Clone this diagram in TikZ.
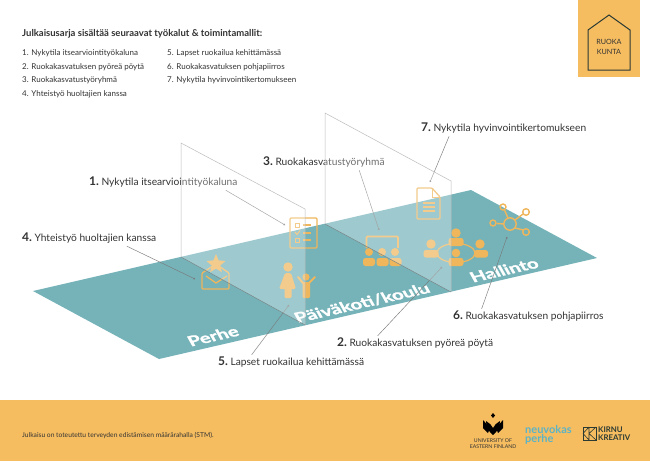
\documentclass[tikz,border=0pt]{standalone}
\usepackage{fontspec}
\setmainfont{Lato}
\newfontfamily\floorfont{Lato}[FakeBold=1.3]
\usetikzlibrary{arrows.meta,calc}
\definecolor{bar}{HTML}{F6BD60}
\definecolor{teal}{HTML}{75B3B9}
\definecolor{ico}{HTML}{EFB65C}
\definecolor{ink}{HTML}{333333}
\definecolor{leader}{HTML}{7A7A7A}
\definecolor{edge}{HTML}{BDBDBD}
\definecolor{nblue}{HTML}{5CB3C6}
\definecolor{kink}{HTML}{2B3A33}
\newcommand{\bustshape}[4]{% centre x, top y, half width, bottom y
  \fill[ico,rounded corners=2.5pt] (#1-#3,#4) -- (#1-#3,#2) -- (#1+#3,#2) -- (#1+#3,#4) -- cycle;}
\newcommand{\lab}[2]{{\fontsize{12}{12}\bfseries #1}\hspace{2.5pt}{\fontsize{10.2}{11}\selectfont #2}}
\tikzset{
  x=1pt,y=-1pt,
  labelnode/.style={anchor=base west,inner sep=0pt,text=ink,text height=10pt,text depth=5pt},
  listnode/.style={anchor=base west,inner sep=0pt,text=ink,font=\fontsize{8}{9}\selectfont},
  leaderline/.style={draw=leader,line width=.45pt,-{Circle[length=1.8pt]}},
  planeface/.style={fill=white,fill opacity=.3,draw=none},
  planeedge/.style={draw=edge,line width=.5pt},
  iconline/.style={draw=ico,line width=1.3pt,line join=round},
  floortext/.style={transform shape,text=white,inner sep=0pt,font=\fontsize{19.5}{20}\floorfont\bfseries},
}
\begin{document}
\begin{tikzpicture}
\useasboundingbox (0,0) rectangle (650,461);
\fill[white] (0,0) rectangle (650,461);
% header
\node[listnode,font=\fontsize{9.5}{11}\selectfont\bfseries] (title) at (22,36) {Julkaisusarja sisältää seuraavat työkalut \& toimintamallit:};
\node[listnode] (a1) at (22,55) {1. Nykytila itsearviointityökaluna};
\node[listnode] (a2) at (22,69) {2. Ruokakasvatuksen pyöreä pöytä};
\node[listnode] (a3) at (22,82) {3. Ruokakasvatustyöryhmä};
\node[listnode] (a4) at (22,96) {4. Yhteistyö huoltajien kanssa};
\node[listnode] (a5) at (167,55) {5. Lapset ruokailua kehittämässä};
\node[listnode] (a6) at (167,69) {6. Ruokakasvatuksen pohjapiirros};
\node[listnode] (a7) at (167,82) {7. Nykytila hyvinvointikertomukseen};
% logo
\fill[bar] (578,0) rectangle (640,77);
\draw[kink,line width=1pt,line join=miter] (588,70) -- (588,30) -- (609,15) -- (630,30) -- (630,70) -- cycle;
\node[inner sep=0pt,text=ink,font=\fontsize{7.2}{10}\selectfont,align=center] (logoa) at (609,47) {RUOKA\\KUNTA};
% floor
\fill[teal] (33,291) -- (159,359) -- (597,258) -- (471,190) -- cycle;
\begin{scope}[shift={(213,336)},cm={.974,.225,-.38,.68,(0,0)}]
\node[floortext] (perhe) at (0,0) {Perhe};
\end{scope}
\begin{scope}[shift={(362,303)},cm={.974,.225,-.38,.68,(0,0)}]
\node[floortext] (paivakoti) at (0,0) {Päiväkoti/koulu};
\end{scope}
\begin{scope}[shift={(504,270)},cm={.974,.225,-.38,.68,(0,0)}]
\node[floortext] (hallinto) at (0,0) {Hallinto};
\end{scope}
% labels
\node[labelnode] (l7) at (421,131) {\lab{7.}{Nykytila hyvinvointikertomukseen}};
\node[labelnode] (l3) at (263,165) {\lab{3.}{Ruokakasvatustyöryhmä}};
\node[labelnode] (l1) at (89,185) {\lab{1.}{Nykytila itsearviointityökaluna}};
\node[labelnode] (l4) at (22,241) {\lab{4.}{Yhteistyö huoltajien kanssa}};
\node[labelnode] (l6) at (453,319) {\lab{6.}{Ruokakasvatuksen pohjapiirros}};
\node[labelnode] (l2) at (337,346) {\lab{2.}{Ruokakasvatuksen pyöreä pöytä}};
\node[labelnode] (l5) at (218,365) {\lab{5.}{Lapset ruokailua kehittämässä}};
% icons: envelope
\draw[iconline,rounded corners=1pt] (202,273) -- (202,289) -- (229,289) -- (229,273) -- (216,264) -- cycle;
\draw[iconline] (206,276) -- (216,283) -- (227,276);
\fill[ico] (216,254) -- (218.6,260.4) -- (225.5,261) -- (220.2,265.5) -- (221.9,272.2) -- (216,268.6) -- (210.1,272.2) -- (211.8,265.5) -- (206.5,261) -- (213.4,260.4) -- cycle;
% checklist
\draw[iconline,rounded corners=1pt] (290,218) rectangle (317,248);
\draw[ico,line width=.9pt] (295,223.5) rectangle (299,227.5) (295,238) rectangle (299,242);
\draw[ico,line width=1.1pt] (303,225) -- (311,225) (303,233) -- (311,233) (303,240) -- (311,240);
\draw[ico,line width=1.1pt] (295,232) -- (297,234.5) -- (300,230.5);
% woman and child
\fill[ico] (288,267) circle[radius=4.7];
\fill[ico,rounded corners=1.5pt] (285,273) -- (291,273) -- (296,289) -- (279,289) -- cycle;
\fill[ico,rounded corners=1.2pt] (284.5,287) rectangle (291.5,298);
\fill[ico] (306,277) circle[radius=3.6];
\draw[ico,line width=2pt,line cap=round,line join=round] (298,277) -- (303,283) -- (309,283) -- (315,277);
\fill[ico,rounded corners=1.2pt] (302.5,282) rectangle (310,298);
% document
\draw[iconline,rounded corners=1pt] (417,188) -- (432,188) -- (440,197) -- (440,219) -- (417,219) -- cycle;
\draw[ico,line width=1pt] (432,188) -- (432,197) -- (440,197);
\draw[ico,line width=1.2pt] (423,203) -- (435,203) (423,207) -- (435,207) (423,211) -- (435,211);
% presentation group
\draw[iconline,line width=1.8pt,rounded corners=1pt] (366.5,248) -- (366.5,236.5) -- (398,236.5) -- (398,248);
\foreach \cx in {369,382,395}{\fill[ico] (\cx,252) circle[radius=4];}
\bustshape{369}{258}{6}{266}
\bustshape{382.5}{258}{6}{266}
\bustshape{395.5}{258}{6}{266}
% round table group
\draw[ico,line width=1.2pt] (456,253) ellipse[x radius=19,y radius=9.5];
\fill[ico] (456,233) circle[radius=4.7];
\bustshape{456}{238}{7.5}{246}
\fill[ico] (431,244) circle[radius=4.7];
\bustshape{431}{250}{7.5}{257.5}
\fill[ico] (480,244) circle[radius=4.7];
\bustshape{481}{250}{7}{257.5}
\fill[ico] (456,253) circle[radius=4.3];
\bustshape{456}{258}{7.5}{266}
% network
\draw[ico,line width=1.4pt] (510,224) circle[radius=6.2] (503,207) circle[radius=3] (526,212) circle[radius=3.3] (493,223) circle[radius=3] (526,232) circle[radius=3.3];
\draw[ico,line width=1.4pt] (508,218) -- (504.5,210) (515,220) -- (523,214) (504,224) -- (497,223.5) (515,228) -- (523.5,230);
% leaders
\coordinate (t7) at (430,182);
\coordinate (t3) at (379,230);
\coordinate (t1) at (285,225);
\coordinate (t4) at (195,279);
\coordinate (t5) at (289,305);
\coordinate (t2) at (442,267);
\coordinate (t6) at (507,237);
\draw[leaderline] ($(l7.south west)!.17!(l7.south east)$) -- (t7);
\draw[leaderline] ($(l3.south west)!.79!(l3.south east)$) -- (t3);
\draw[leaderline] ($(l1.south west)!.92!(l1.south east)$) -- (t1);
\draw[leaderline] ($(l4.south west)!.78!(l4.south east)$) -- (t4);
\draw[leaderline] ($(l6.north west)!.19!(l6.north east)$) -- (t6);
\draw[leaderline] ($(l2.north west)!.26!(l2.north east)$) -- (t2);
\draw[leaderline] ($(l5.north west)!.23!(l5.north east)$) -- (t5);
% translucent planes
\fill[planeface] (181,143) -- (305,209) -- (305,325) -- (181,257) -- cycle;
\fill[planeface] (325,113) -- (451,181) -- (451,292) -- (325,224) -- cycle;
\draw[planeedge] (181,257) -- (181,143) -- (305,209) -- (305,325);
\draw[planeedge] (325,224) -- (325,113) -- (451,181) -- (451,292);
\draw[draw=leader!80!teal,line width=.5pt] (181,257) -- (305,325) (325,224) -- (451,292);
% footer
\fill[bar] (0,400) rectangle (650,461);
\node[listnode,font=\fontsize{6.7}{8}\selectfont] (foot) at (22,437) {Julkaisu on toteutettu terveyden edistämisen määrärahalla (STM).};
% UEF logo
\fill[black] (493,413) -- (495,415.5) -- (493,418) -- (491,415.5) -- cycle;
\fill[black] (493,435) .. controls (488,431) and (486,426) .. (486,421) .. controls (489,423) and (492,425) .. (493,428) .. controls (494,425) and (497,423) .. (500,421) .. controls (500,426) and (498,431) .. (493,435) -- cycle;
\fill[black] (483,420) -- (490,428) -- (488,433) -- (483,428) -- cycle;
\fill[black] (503,420) -- (496,428) -- (498,433) -- (503,428) -- cycle;
\node[inner sep=0pt,text=ink,font=\fontsize{5.2}{6.6}\selectfont,align=center] (uef) at (493,443.5) {UNIVERSITY OF\\EASTERN FINLAND};
% neuvokas perhe
\node[listnode,text=nblue,font=\fontsize{11}{11}\bfseries] (neu) at (525,433) {neuvokas};
\node[listnode,text=nblue,font=\fontsize{11}{11}\bfseries] (per) at (525,442) {perhe};
% Kirnu Kreativ
\draw[kink,line width=.7pt] (583,427) rectangle (596,440);
\draw[kink,line width=.6pt] (583,433.5) -- (589,427) (583,433.5) -- (589,440) (589,427) -- (589,440) (589,433.5) -- (596,427) (589,433.5) -- (596,440);
\node[listnode,text=kink,font=\fontsize{7.8}{8}\bfseries] (kir) at (598,432) {KIRNU};
\node[listnode,text=kink,font=\fontsize{7.8}{8}\bfseries] (kre) at (598,440) {KREATIV};
\end{tikzpicture}
\end{document}
